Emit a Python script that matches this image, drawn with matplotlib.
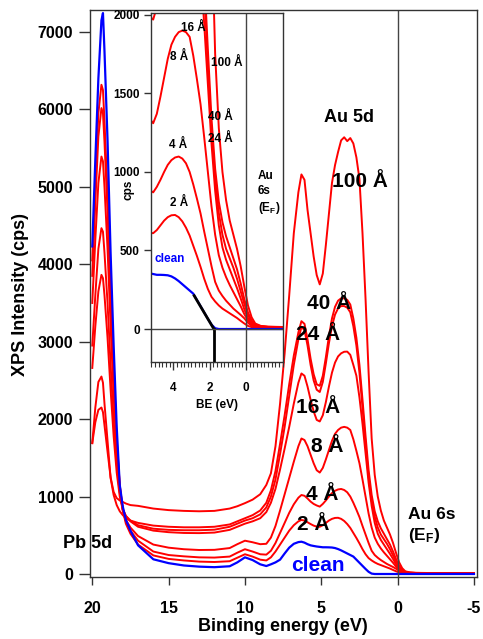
import matplotlib
matplotlib.use("Agg")
import matplotlib.pyplot as plt
from matplotlib.ticker import MultipleLocator, FixedLocator

plt.rcParams["font.family"] = ["Liberation Sans", "DejaVu Sans"]
plt.rcParams["font.weight"] = "bold"
plt.rcParams["axes.labelweight"] = "bold"
plt.rcParams["axes.unicode_minus"] = False
plt.rcParams["mathtext.fontset"] = "custom"
plt.rcParams["mathtext.rm"] = "Liberation Sans:bold"
plt.rcParams["mathtext.bf"] = "Liberation Sans:bold"
plt.rcParams["mathtext.it"] = "Liberation Sans:bold"

# Binding energy grid (eV)
be = [20.0, 19.8, 19.6, 19.4, 19.3, 19.2, 19.0, 18.8, 18.6, 18.4,
      18.2, 18.0, 17.8, 17.5, 17.0, 16.0, 15.0, 14.0, 13.0, 12.0,
      11.0, 10.5, 10.0, 9.5, 9.0, 8.6, 8.3, 8.0, 7.7, 7.4,
      7.1, 6.8, 6.5, 6.3, 6.1, 5.9, 5.7, 5.5, 5.3, 5.1,
      4.9, 4.7, 4.5, 4.3, 4.1, 3.9, 3.7, 3.5, 3.3, 3.1,
      2.9, 2.7, 2.5, 2.3, 2.1, 1.9, 1.7, 1.5, 1.3, 1.1,
      0.9, 0.7, 0.5, 0.3, 0.1, -0.1, -0.3, -0.5, -0.8, -1.2,
      -2.0, -3.5, -5.0]

# Photoemission intensity (cps) for the clean surface and each Au coverage
clean = [4230, 5350, 6400, 7150, 7244, 6750, 5600, 4150, 2950, 1900,
         1150, 870, 700, 560, 370, 190, 140, 110, 95, 88,
         100, 150, 215, 180, 125, 103, 125, 150, 185, 265,
         340, 390, 412, 417, 405, 385, 370, 362, 355, 350,
         345, 345, 344, 342, 335, 322, 305, 285, 265, 245,
         225, 185, 145, 105, 65, 28, 5, 0, 0, 0,
         0, 0, 0, 0, 0, 0, 0, 0, 0, 0,
         0, 0, 0]

au_2 = [4050, 5050, 5950, 6318, 6250, 5850, 4900, 3700, 2650, 1750,
        1150, 820, 650, 520, 380, 240, 195, 175, 160, 155,
        165, 210, 255, 225, 185, 175, 215, 290, 380, 470,
        560, 630, 680, 698, 690, 668, 645, 625, 612, 610,
        630, 660, 690, 712, 724, 726, 712, 685, 645, 595,
        530, 465, 395, 320, 255, 205, 175, 150, 130, 115,
        100, 85, 70, 52, 35, 20, 12, 9, 7, 6,
        5, 5, 5]

au_4 = [3850, 4800, 5650, 6017, 5950, 5580, 4680, 3550, 2550, 1700,
        1140, 830, 680, 560, 430, 290, 245, 228, 215, 212,
        225, 275, 320, 290, 255, 250, 300, 400, 530, 660,
        790, 900, 985, 1020, 1010, 975, 935, 905, 885, 870,
        905, 950, 1000, 1045, 1075, 1092, 1098, 1085, 1055, 1000,
        920, 830, 735, 620, 510, 400, 300, 245, 210, 180,
        155, 130, 110, 90, 68, 40, 20, 12, 9, 8,
        6, 6, 6]

au_8 = [3500, 4320, 5050, 5391, 5330, 5000, 4200, 3200, 2300, 1580,
        1090, 820, 700, 600, 490, 380, 340, 320, 310, 312,
        335, 385, 430, 410, 385, 390, 470, 620, 820, 1030,
        1240, 1450, 1650, 1750, 1730, 1650, 1540, 1430, 1340, 1310,
        1370, 1480, 1600, 1720, 1810, 1860, 1890, 1900, 1890, 1860,
        1740, 1590, 1430, 1220, 1000, 780, 600, 470, 390, 330,
        280, 235, 190, 145, 95, 55, 28, 15, 11, 10,
        8, 8, 8]

au_16 = [2950, 3600, 4200, 4466, 4420, 4150, 3500, 2700, 1980, 1420,
         1050, 840, 750, 680, 610, 560, 540, 530, 528, 535,
         570, 610, 650, 680, 720, 800, 920, 1100, 1350, 1620,
         1900, 2200, 2470, 2590, 2560, 2420, 2250, 2100, 1990, 1970,
         2050, 2220, 2420, 2600, 2730, 2810, 2850, 2870, 2872, 2830,
         2700, 2560, 2280, 1940, 1560, 1180, 880, 660, 520, 440,
         380, 320, 260, 195, 125, 70, 38, 20, 14, 12,
         10, 10, 10]

au_24 = [2661, 3200, 3650, 3863, 3820, 3600, 3050, 2380, 1780, 1310,
         1000, 830, 750, 690, 630, 585, 570, 565, 565, 572,
         610, 650, 690, 720, 770, 860, 1000, 1220, 1550, 1900,
         2300, 2700, 3030, 3190, 3150, 2950, 2700, 2500, 2380, 2350,
         2480, 2720, 2980, 3200, 3350, 3430, 3460, 3460, 3440, 3380,
         3200, 2950, 2600, 2150, 1680, 1250, 950, 740, 600, 510,
         450, 390, 320, 240, 160, 90, 48, 24, 16, 13,
         11, 11, 11]

au_40 = [1690, 2150, 2480, 2550, 2470, 2200, 1720, 1240, 1020, 890,
         810, 760, 720, 690, 660, 625, 610, 603, 603, 610,
         640, 680, 720, 760, 820, 920, 1080, 1330, 1680, 2050,
         2450, 2820, 3120, 3265, 3230, 3030, 2780, 2580, 2450, 2430,
         2560, 2800, 3070, 3300, 3450, 3530, 3560, 3560, 3540, 3480,
         3300, 3050, 2700, 2250, 1780, 1340, 1020, 810, 680, 590,
         520, 450, 380, 290, 190, 105, 55, 28, 18, 14,
         12, 12, 12]

au_100 = [1690, 1960, 2120, 2150, 2090, 1920, 1580, 1250, 1060, 980,
          950, 930, 910, 890, 880, 845, 825, 815, 810, 815,
          845, 875, 915, 960, 1030, 1150, 1300, 1650, 2200, 2850,
          3600, 4400, 4930, 5160, 5090, 4700, 4400, 4100, 3860, 3740,
          3880, 4250, 4650, 5050, 5280, 5450, 5600, 5640, 5590, 5630,
          5560, 5380, 5100, 4400, 3550, 2600, 1750, 1280, 1000, 820,
          690, 600, 510, 400, 270, 150, 75, 35, 20, 15,
          13, 13, 13]

coverage_series = [au_2, au_4, au_8, au_16, au_24, au_40, au_100]

# Linear extrapolation of the leading edge of the clean spectrum
edge_be = [2.85, 1.77]
edge_cps = [212, 0]
edge_cut = 1.77

RED = "#ff0000"
BLUE = "#0000ff"
SPINE = "#333333"

fig = plt.figure(figsize=(4.83, 6.39), dpi=100)

# ---------------- main panel ----------------
ax = fig.add_axes([0.1863, 0.097, 0.8013, 0.8874])
for series in coverage_series:
    ax.plot(be, series, color=RED, lw=1.4)
ax.plot(be, clean, color=BLUE, lw=1.6)
ax.axvline(0, color="#444444", lw=1.0)

ax.set_xlim(20.15, -5.2)
ax.set_ylim(-39, 7284)
ax.xaxis.set_major_locator(FixedLocator([20, 15, 10, 5, 0, -5]))
ax.yaxis.set_major_locator(MultipleLocator(1000))
ax.tick_params(axis="y", direction="out", length=8, width=1, pad=4,
               labelsize=11.5, color=SPINE)
ax.tick_params(axis="x", direction="out", length=6, width=1, pad=11,
               labelsize=11.5, color=SPINE)
for sp in ax.spines.values():
    sp.set_color(SPINE)
    sp.set_linewidth(1.0)

ax.set_xlabel("Binding energy (eV)", fontsize=13)
ax.set_ylabel("XPS Intensity (cps)", fontsize=13)
ax.xaxis.set_label_coords(0.4987, -0.072)
ax.yaxis.set_label_coords(-0.158, 0.499)

big = dict(fontsize=15, ha="center", va="center")
ax.text(20.28, 388, "Pb 5d", fontsize=13, ha="center", va="center")
ax.text(3.19, 5892, "Au 5d", fontsize=13, ha="center", va="center")
ax.text(2.47, 5065, "100 Å", **big)
ax.text(4.50, 3488, "40 Å", **big)
ax.text(5.22, 3088, "24 Å", **big)
ax.text(5.22, 2145, "16 Å", **big)
ax.text(4.63, 1641, "8 Å", **big)
ax.text(4.96, 1021, "4 Å", **big)
ax.text(5.55, 633, "2 Å", **big)
ax.text(5.22, 116, "clean", color=BLUE, **big)
ax.text(-0.67, 620, "Au 6s\n(E$_\\mathrm{F}$)", fontsize=12.5, ha="left",
        va="center", linespacing=1.25)

# ---------------- inset: valence band edge ----------------
ins = fig.add_axes([0.3126, 0.433, 0.2740, 0.5462])
for series in coverage_series:
    ins.plot(be, series, color=RED, lw=1.4)
ins.plot(be, clean, color=BLUE, lw=1.6)
ins.plot(edge_be, edge_cps, color="black", lw=2.0)
ins.plot([edge_cut, edge_cut], [0, -300], color="black", lw=2.0)
ins.axvline(0, color="#444444", lw=1.0)
ins.axhline(0, color="#444444", lw=1.0)

ins.set_xlim(5.22, -2.04)
ins.set_ylim(-212, 2010)
ins.xaxis.set_major_locator(FixedLocator([4, 2, 0]))
ins.xaxis.set_minor_locator(MultipleLocator(0.2))
ins.yaxis.set_major_locator(MultipleLocator(500))
ins.tick_params(axis="y", which="major", direction="out", length=5,
                width=1, labelsize=8.5, pad=3, color=SPINE)
ins.tick_params(axis="x", which="major", direction="out", length=6,
                width=1, labelsize=8.5, pad=8, color=SPINE)
ins.tick_params(axis="x", which="minor", direction="out", length=3.5,
                width=0.8, color=SPINE)
for sp in ins.spines.values():
    sp.set_color(SPINE)
    sp.set_linewidth(1.0)

ins.set_ylabel("cps", fontsize=8.5)
ins.set_xlabel("BE (eV)", fontsize=8.5)
ins.yaxis.set_label_coords(-0.128, 0.494)
ins.xaxis.set_label_coords(0.499, -0.105)

small = dict(fontsize=8.5, ha="center", va="center")
ins.text(2.92, 1917, "16 Å", **small)
ins.text(3.69, 1733, "8 Å", **small)
ins.text(1.06, 1694, "100 Å", **small)
ins.text(1.39, 1350, "40 Å", **small)
ins.text(1.39, 1210, "24 Å", **small)
ins.text(3.74, 1172, "4 Å", **small)
ins.text(3.69, 803, "2 Å", **small)
ins.text(4.18, 446, "clean", color=BLUE, **small)
ins.text(-0.64, 866, "Au\n6s\n(E$_\\mathrm{F}$)", fontsize=8.5, ha="left",
         va="center", linespacing=1.3)

fig.savefig("out.png", dpi=100)
